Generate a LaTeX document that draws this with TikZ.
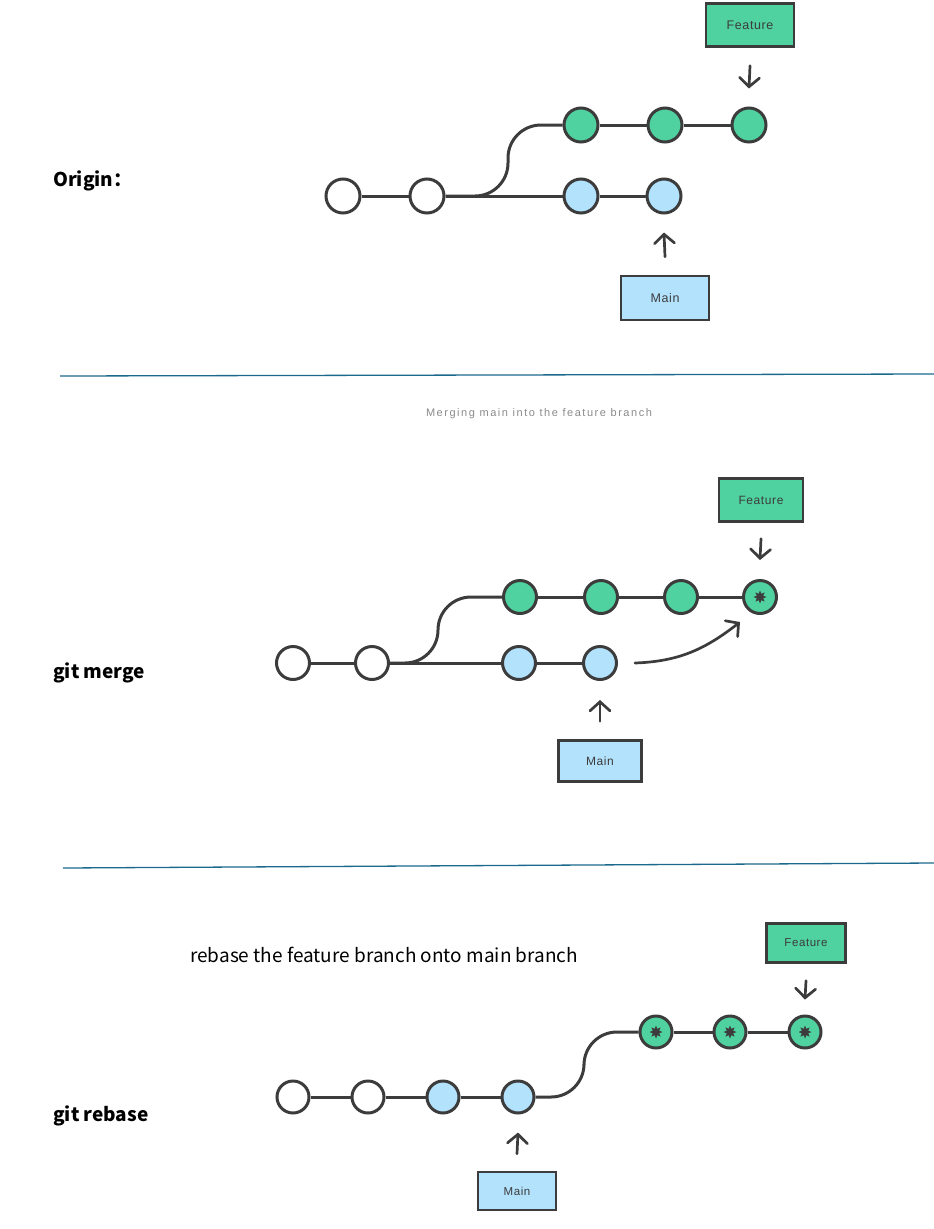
\documentclass[tikz,border=0pt]{standalone}
\usepackage{fontspec}
\setmainfont{Liberation Sans}
\newfontfamily\cjk{Noto Sans CJK SC}
\newfontfamily\boxfont[LetterSpace=5]{Liberation Sans}
\newfontfamily\capfont[LetterSpace=14]{Liberation Sans}
\usetikzlibrary{arrows.meta,shapes.geometric}
\definecolor{gfill}{HTML}{4FD1A0}
\definecolor{bfill}{HTML}{B3E2FD}
\definecolor{ink}{HTML}{3C3C3C}
\definecolor{sepc}{HTML}{1B6A8E}
\definecolor{capc}{HTML}{8A8A8A}
\begin{document}
\begin{tikzpicture}[x=1pt,y=-1pt,
  commit/.style={circle,draw=ink,line width=3pt,minimum size=34pt,inner sep=0pt},
  wc/.style={commit,fill=white},
  bc/.style={commit,fill=bfill},
  gc/.style={commit,fill=gfill},
  starmark/.style={star,star points=8,star point ratio=1.9,fill=ink,draw=none,minimum size=13pt,inner sep=0pt},
  edge/.style={draw=ink,line width=3pt},
  branchcurve/.style={edge,rounded corners=33pt},
  tag/.style={draw=ink,line width=2.5pt,text=ink,inner sep=0pt},
  ptr/.style={draw=ink,line width=2.7pt,line cap=round,-{Straight Barb[length=9pt,width=20pt,line cap=round]}},
  section/.style={font=\cjk\bfseries\fontsize{19}{22}\selectfont,anchor=west,inner sep=0pt},
  sepline/.style={draw=sepc,line width=1.3pt}]
\useasboundingbox (0,0) rectangle (934,1229);

% ---------- Origin ----------
\node[section] (t1) at (53,181) {Origin：};
\node[wc] (o1) at (343,196) {};
\node[wc] (o2) at (427,196) {};
\node[bc] (o3) at (581,196) {};
\node[bc] (o4) at (664,196) {};
\node[gc] (o5) at (581,125) {};
\node[gc] (o6) at (665,125) {};
\node[gc] (o7) at (749,125) {};
\coordinate (oc1) at (508,196);
\coordinate (oc2) at (508,125);
\draw[edge] (o1) -- (o2);
\draw[edge] (o2) -- (o3);
\draw[edge] (o3) -- (o4);
\draw[edge] (o5) -- (o6);
\draw[edge] (o6) -- (o7);
\draw[branchcurve] (o2.east) -- (oc1) -- (oc2) -- (o5.west);
\node[tag,fill=gfill,minimum width=88pt,minimum height=43pt,font=\boxfont\fontsize{12.5}{14}\selectfont] (of) at (750,25) {Feature};
\node[tag,fill=bfill,minimum width=88pt,minimum height=44pt,font=\boxfont\fontsize{12.5}{14}\selectfont] (om) at (665,298) {Main};
\draw[ptr] ([yshift=-18pt]of.south) -- ([yshift=18pt]o7.north);
\draw[ptr] ([yshift=18pt]om.north) -- ([yshift=-18pt]o4.south);

\draw[sepline] (60,376) -- (934,374);

% ---------- Merge ----------
\node[font=\capfont\fontsize{11}{13}\selectfont,text=capc] (cap) at (539,414) {Merging main into the feature branch};
\node[section] (t2) at (53,673) {git merge};
\begin{scope}[commit/.append style={minimum size=33pt}]
\node[wc] (m1) at (293,663) {};
\node[wc] (m2) at (372,663) {};
\node[bc] (m3) at (519,663) {};
\node[bc] (m4) at (600,663) {};
\node[gc] (m5) at (520,597) {};
\node[gc] (m6) at (601,597) {};
\node[gc] (m7) at (681,597) {};
\node[gc] (m8) at (760,597) {};
\end{scope}
\node[starmark] (ms8) at (m8.center) {};
\coordinate (mc1) at (438,663);
\coordinate (mc2) at (438,597);
\draw[edge] (m1) -- (m2);
\draw[edge] (m2) -- (m3);
\draw[edge] (m3) -- (m4);
\draw[edge] (m5) -- (m6);
\draw[edge] (m6) -- (m7);
\draw[edge] (m7) -- (m8);
\draw[branchcurve] (m2.east) -- (mc1) -- (mc2) -- (m5.west);
\node[tag,fill=gfill,minimum width=84pt,minimum height=43pt,font=\boxfont\fontsize{12}{14}\selectfont] (mf) at (761,500) {Feature};
\node[tag,fill=bfill,minimum width=83pt,minimum height=41pt,font=\boxfont\fontsize{12}{14}\selectfont] (mm) at (600,761) {Main};
\draw[ptr] ([yshift=-16pt]mf.south) -- ([yshift=19pt]m8.north);
\draw[ptr] ([yshift=18pt]mm.north) -- ([yshift=-19pt]m4.south);
\coordinate (mgs) at ([xshift=17pt]m4.east);
\coordinate (mge) at ([shift={(-20,25)}]m8.center);
\draw[ptr] (mgs) to[out=2,in=-142] (mge);

\draw[sepline] (63,868) -- (934,863);

% ---------- Rebase ----------
\node[font=\cjk\fontsize{19}{22}\selectfont,anchor=west,inner sep=0pt] (rt) at (190,955) {rebase the feature branch onto main branch};
\node[section] (t3) at (53,1116) {git rebase};
\begin{scope}[commit/.append style={minimum size=32pt}]
\node[wc] (r1) at (293,1097) {};
\node[wc] (r2) at (368,1097) {};
\node[bc] (r3) at (443,1097) {};
\node[bc] (r4) at (518,1097) {};
\node[gc] (r5) at (656,1032) {};
\node[gc] (r6) at (730,1032) {};
\node[gc] (r7) at (805,1032) {};
\end{scope}
\node[starmark] (rs5) at (r5.center) {};
\node[starmark] (rs6) at (r6.center) {};
\node[starmark] (rs7) at (r7.center) {};
\coordinate (rc1) at (584,1097);
\coordinate (rc2) at (584,1032);
\draw[edge] (r1) -- (r2);
\draw[edge] (r2) -- (r3);
\draw[edge] (r3) -- (r4);
\draw[edge] (r5) -- (r6);
\draw[edge] (r6) -- (r7);
\draw[branchcurve] (r4.east) -- (rc1) -- (rc2) -- (r5.west);
\node[tag,fill=gfill,minimum width=79pt,minimum height=39pt,font=\boxfont\fontsize{11.5}{13}\selectfont] (rf) at (806,943) {Feature};
\node[tag,fill=bfill,minimum width=78pt,minimum height=38pt,font=\boxfont\fontsize{11.5}{13}\selectfont] (rm) at (517,1191) {Main};
\draw[ptr] ([yshift=-17pt]rf.south) -- ([yshift=15pt]r7.north);
\draw[ptr] ([yshift=17pt]rm.north) -- ([yshift=-18pt]r4.south);
\end{tikzpicture}
\end{document}
